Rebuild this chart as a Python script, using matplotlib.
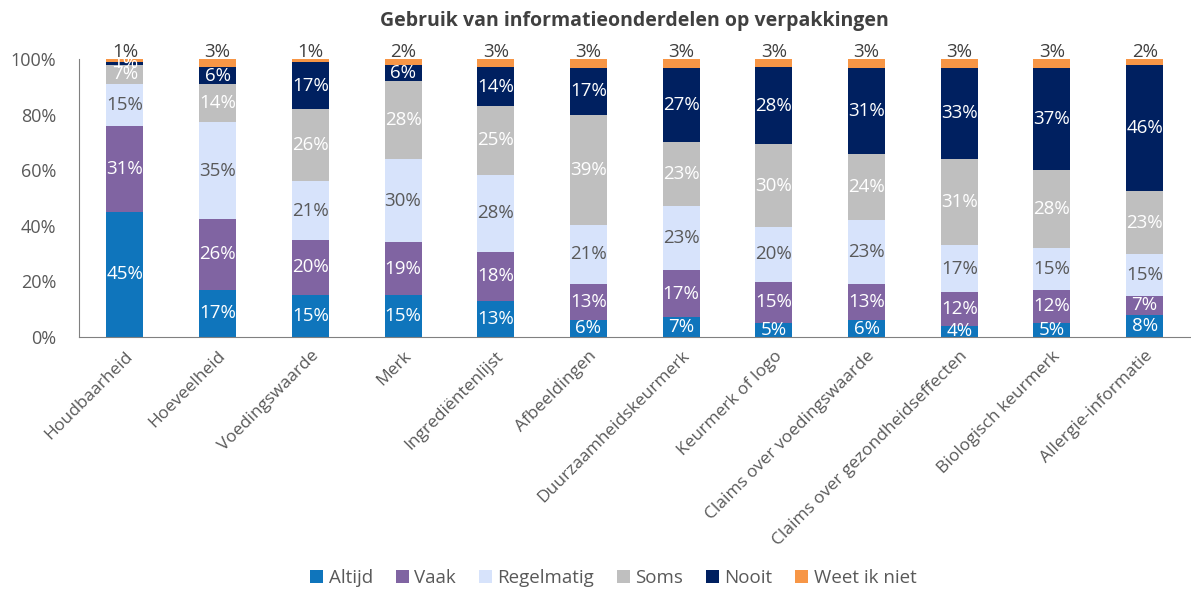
import numpy as np
import matplotlib.pyplot as plt

plt.rcParams['font.family'] = ['Open Sans', 'DejaVu Sans']

categories = ['Houdbaarheid', 'Hoeveelheid', 'Voedingswaarde', 'Merk', 'Ingrediëntenlijst',
              'Afbeeldingen', 'Duurzaamheidskeurmerk', 'Keurmerk of logo',
              'Claims over voedingswaarde', 'Claims over gezondheidseffecten',
              'Biologisch keurmerk', 'Allergie-informatie']

altijd = [45, 17, 15, 15, 13, 6, 7, 5, 6, 4, 5, 8]
vaak = [31, 26, 20, 19, 18, 13, 17, 15, 13, 12, 12, 7]
regelmatig = [15, 35, 21, 30, 28, 21, 23, 20, 23, 17, 15, 15]
soms = [7, 14, 26, 28, 25, 39, 23, 30, 24, 31, 28, 23]
nooit = [1, 6, 17, 6, 14, 17, 27, 28, 31, 33, 37, 46]
weet_niet = [1, 3, 1, 2, 3, 3, 3, 3, 3, 3, 3, 2]

series = [('Altijd', altijd, '#0F75BC', 'white'),
          ('Vaak', vaak, '#8064A2', 'white'),
          ('Regelmatig', regelmatig, '#D7E3FB', '#595959'),
          ('Soms', soms, '#BFBFBF', 'white'),
          ('Nooit', nooit, '#002060', 'white'),
          ('Weet ik niet', weet_niet, '#F79646', '#404040')]

# 100% stacked: normalise each bar to its total
totals = np.sum([np.array(s[1], dtype=float) for s in series], axis=0)

fig = plt.figure(figsize=(11.91, 5.92), dpi=100)
ax = fig.add_axes([0.066, 0.431, 0.934, 0.469])

x = np.arange(len(categories))
bottom = np.zeros(len(categories))
for name, vals, color, tcol in series:
    raw = np.array(vals, dtype=float)
    h = raw / totals * 100
    ax.bar(x, h, 0.4, bottom=bottom, color=color, label=name)
    for xi, b, hv, v in zip(x, bottom, h, raw):
        if name == 'Weet ik niet':
            ax.text(xi, b + hv - 0.5, f'{int(v)}%', ha='center', va='bottom',
                    color=tcol, fontsize=13.5)
        else:
            ax.text(xi, b + hv / 2, f'{int(v)}%', ha='center', va='center',
                    color=tcol, fontsize=13.5)
    bottom += h

ax.set_xlim(-0.5, len(categories) - 0.5)
ax.set_ylim(0, 100)
ax.set_yticks(range(0, 101, 20))
ax.set_yticklabels([f'{v}%' for v in range(0, 101, 20)], fontsize=13, color='#595959')
ax.set_xticks(x)
ax.set_xticklabels(categories, rotation=45, ha='right', rotation_mode='anchor',
                   fontsize=12.5, color='#595959')
ax.tick_params(axis='x', length=0, pad=8)
ax.tick_params(axis='y', length=0, pad=16)
for s in ['top', 'right']:
    ax.spines[s].set_visible(False)
for s in ['left', 'bottom']:
    ax.spines[s].set_color('#808080')

ax.set_title('Gebruik van informatieonderdelen op verpakkingen', fontsize=14,
             fontweight='bold', color='#404040', pad=24)

fig.legend(loc='lower center', ncol=6, frameon=False, fontsize=13.5,
           bbox_to_anchor=(0.515, -0.02), handlelength=0.7, handleheight=0.7,
           handletextpad=0.3, columnspacing=1.2, labelcolor='#595959')

fig.savefig('out.png', dpi=100)
